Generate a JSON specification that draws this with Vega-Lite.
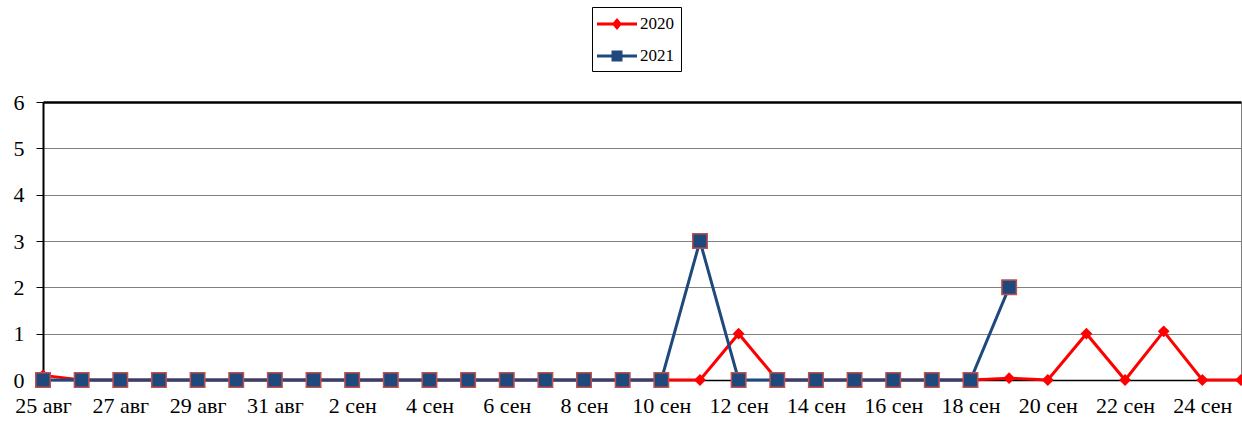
{
  "$schema": "https://vega.github.io/schema/vega-lite/v6.json",
  "autosize": {"type": "none"},
  "width": 1198,
  "height": 278,
  "padding": {"left": 43, "top": 102, "right": 1, "bottom": 41},
  "background": "white",
  "config": {
    "font": "Liberation Serif",
    "view": {"stroke": "#808080", "strokeWidth": 1}
  },
  "data": {
    "values": [
      {"d": "25 авг", "a": 0.1, "b": 0},
      {"d": "26 авг", "a": 0, "b": 0},
      {"d": "27 авг", "a": 0, "b": 0},
      {"d": "28 авг", "a": 0, "b": 0},
      {"d": "29 авг", "a": 0, "b": 0},
      {"d": "30 авг", "a": 0, "b": 0},
      {"d": "31 авг", "a": 0, "b": 0},
      {"d": "1 сен", "a": 0, "b": 0},
      {"d": "2 сен", "a": 0, "b": 0},
      {"d": "3 сен", "a": 0, "b": 0},
      {"d": "4 сен", "a": 0, "b": 0},
      {"d": "5 сен", "a": 0, "b": 0},
      {"d": "6 сен", "a": 0, "b": 0},
      {"d": "7 сен", "a": 0, "b": 0},
      {"d": "8 сен", "a": 0, "b": 0},
      {"d": "9 сен", "a": 0, "b": 0},
      {"d": "10 сен", "a": 0, "b": 0},
      {"d": "11 сен", "a": 0, "b": 3},
      {"d": "12 сен", "a": 1, "b": 0},
      {"d": "13 сен", "a": 0, "b": 0},
      {"d": "14 сен", "a": 0, "b": 0},
      {"d": "15 сен", "a": 0, "b": 0},
      {"d": "16 сен", "a": 0, "b": 0},
      {"d": "17 сен", "a": 0, "b": 0},
      {"d": "18 сен", "a": 0, "b": 0},
      {"d": "19 сен", "a": 0.04, "b": 2},
      {"d": "20 сен", "a": 0, "b": null},
      {"d": "21 сен", "a": 1, "b": null},
      {"d": "22 сен", "a": 0, "b": null},
      {"d": "23 сен", "a": 1.05, "b": null},
      {"d": "24 сен", "a": 0, "b": null},
      {"d": "25 сен", "a": 0, "b": null}
    ]
  },
  "encoding": {
    "x": {
      "field": "d",
      "type": "ordinal",
      "sort": null,
      "scale": {"type": "point", "padding": 0},
      "axis": {
        "title": null,
        "values": ["25 авг","27 авг","29 авг","31 авг","2 сен","4 сен","6 сен","8 сен","10 сен","12 сен","14 сен","16 сен","18 сен","20 сен","22 сен","24 сен"],
        "labelAngle": 0,
        "labelFont": "Liberation Serif",
        "labelFontSize": 22,
        "labelColor": "black",
        "labelPadding": 15,
        "labelOverlap": false,
        "ticks": false,
        "domainColor": "black",
        "domainWidth": 1.5,
        "grid": false
      }
    }
  },
  "layer": [
    {
      "mark": {"type": "line", "color": "#FF0000", "strokeWidth": 3},
      "encoding": {
        "y": {
          "field": "a",
          "type": "quantitative",
          "scale": {"domain": [0, 6]},
          "axis": {
            "title": null,
            "values": [0, 1, 2, 3, 4, 5, 6],
            "labelFont": "Liberation Serif",
            "labelFontSize": 22,
            "labelColor": "black",
            "labelPadding": 12,
            "tickSize": 7,
            "tickColor": "black",
            "domainColor": "black",
            "domainWidth": 2,
            "grid": true,
            "gridColor": {"condition": {"test": "datum.value == 6", "value": "black"}, "value": "#808080"},
            "gridWidth": {"condition": {"test": "datum.value == 6", "value": 2.5}, "value": 1},
            "gridOpacity": 1
          }
        }
      }
    },
    {
      "mark": {"type": "point", "shape": "diamond", "filled": true, "color": "#FF0000", "size": 140, "opacity": 1},
      "encoding": {"y": {"field": "a", "type": "quantitative"}}
    },
    {
      "mark": {"type": "line", "color": "#1F497D", "strokeWidth": 3},
      "encoding": {"y": {"field": "b", "type": "quantitative"}}
    },
    {
      "mark": {"type": "point", "shape": "square", "filled": true, "fill": "#1F497D", "stroke": "#C0504D", "strokeWidth": 1.5, "size": 210, "opacity": 1},
      "encoding": {"y": {"field": "b", "type": "quantitative"}}
    },
    {
      "transform": [{"filter": "datum.a < -100"}, {"calculate": "'2020'", "as": "series"}],
      "mark": {"type": "point", "filled": true, "opacity": 1},
      "encoding": {
        "y": {"field": "a", "type": "quantitative"},
        "color": {
          "field": "series",
          "type": "nominal",
          "scale": {"domain": ["2020", "2021"], "range": ["#FF0000", "#1F497D"]},
          "legend": {
            "title": null,
            "orient": "none",
            "legendX": 549,
            "legendY": -95,
            "direction": "vertical",
            "symbolSize": 400,
            "symbolStrokeWidth": 0,
            "labelFont": "Liberation Serif",
            "labelFontSize": 17,
            "labelColor": "black",
            "labelOffset": 21,
            "rowPadding": 14,
            "padding": 7,
            "strokeColor": "black",
            "fillColor": "white"
          }
        },
        "shape": {
          "field": "series",
          "type": "nominal",
          "scale": {
            "domain": ["2020", "2021"],
            "range": [
              "M-1.2,-0.15H2.8V0.15H-1.2Z M0.8,-0.6L1.3,0L0.8,0.6L0.3,0Z",
              "M-1.2,-0.15H2.8V0.15H-1.2Z M0.25,-0.55H1.35V0.55H0.25Z"
            ]
          }
        }
      }
    }
  ]
}
